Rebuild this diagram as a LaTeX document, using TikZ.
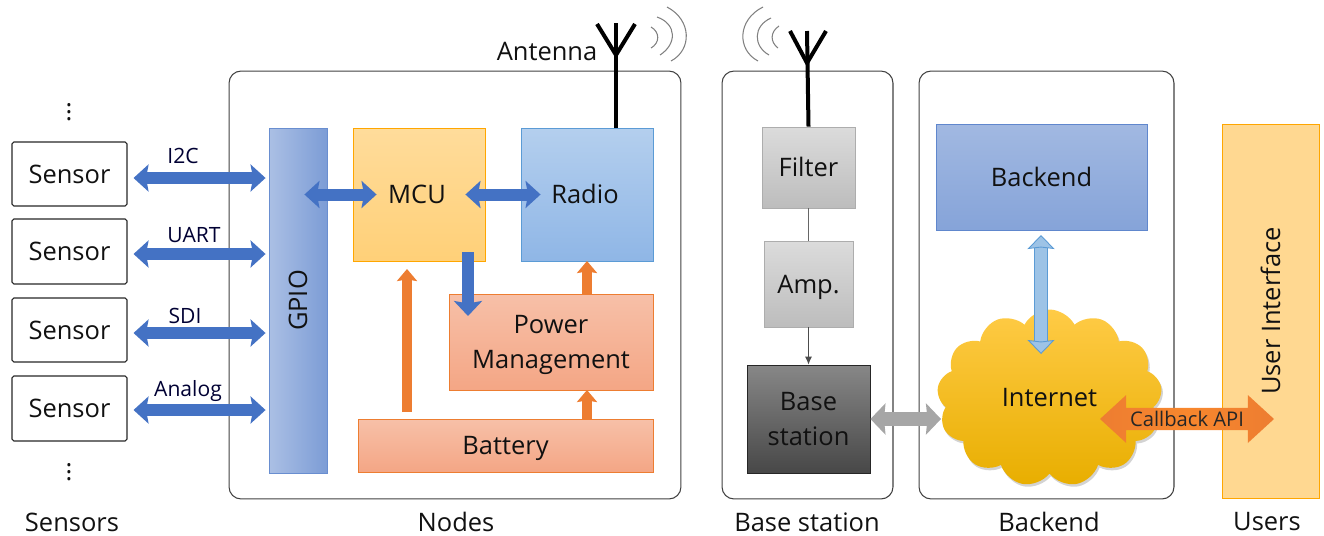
\documentclass[tikz,border=0pt]{standalone}
\usepackage{fontspec}
\setmainfont{Open Sans}
\usetikzlibrary{arrows.meta,shapes.symbols,shapes.arrows,shadows}

\definecolor{busblue}{HTML}{4472C4}
\definecolor{powerorange}{HTML}{ED7D31}
\definecolor{linkblue}{HTML}{9DC3E6}
\definecolor{edgeblue}{HTML}{5B9BD5}
\definecolor{textdark}{HTML}{111111}
\definecolor{orangetop}{HTML}{F7C0A8}
\definecolor{orangebottom}{HTML}{F4A685}

\tikzset{
  label/.style={font=\fontsize{14.5}{20}\selectfont, text=textdark, inner sep=0pt},
  smalllabel/.style={font=\fontsize{12}{14}\selectfont, text=black!80!blue, inner sep=0pt},
  group/.style={draw=black!75, line width=0.6pt, rounded corners=0.24cm},
  block/.style={label, align=center, line width=0.5pt, inner sep=0pt},
  oneline/.style={text height=14pt, text depth=3.6pt},
  sensorbox/.style={block, oneline, draw=black!85, line width=0.6pt, rounded corners=1pt, minimum width=2.3cm},
  graybox/.style={block, oneline, draw=black!32, top color=black!14, bottom color=black!26},
  orangebox/.style={block, draw=powerorange, top color=orangetop, bottom color=orangebottom},
  busarrow/.style={line width=0.24cm, busblue, {Stealth[length=0.3cm,width=0.54cm,inset=0.05cm]}-{Stealth[length=0.3cm,width=0.54cm,inset=0.05cm]}},
  bustip/.style={line width=0.24cm, busblue, -{Stealth[length=0.3cm,width=0.56cm,inset=0.05cm]}},
  powerarrow/.style={line width=0.19cm, powerorange, -{Stealth[length=0.24cm,width=0.4cm,inset=0.03cm]}},
  antenna/.style={line width=0.08cm, black},
  wave/.style={line width=0.6pt, black!50},
}

\begin{document}
\begin{tikzpicture}[x=0.02cm,y=-0.02cm,>=Latex]
    \useasboundingbox (0,0) rectangle (1324,535);

    % outer groups
    \node[group, minimum width=9.04cm, minimum height=8.56cm] (nodes) at (455,285) {};
    \node[group, minimum width=3.42cm, minimum height=8.56cm] (basegroup) at (807.5,285) {};
    \node[group, minimum width=5.1cm, minimum height=8.56cm] (backendgroup) at (1046.5,285) {};

    % sensors
    \node[sensorbox, minimum height=1.28cm] (sensora) at (69.5,174) {Sensor};
    \node[sensorbox, minimum height=1.3cm] (sensorb) at (69.5,251.5) {Sensor};
    \node[sensorbox, minimum height=1.28cm] (sensorc) at (69.5,330) {Sensor};
    \node[sensorbox, minimum height=1.3cm] (sensord) at (69.5,408.5) {Sensor};
    \node[label] (dotstop) at (69,107) {$\vdots$};
    \node[label] (dotsbottom) at (69,467) {$\vdots$};

    % node blocks
    \node[block, draw=busblue!80, left color=busblue!45, right color=busblue!70, minimum width=1.16cm, minimum height=6.9cm] (gpio) at (298,300.5) {\rotatebox{90}{GPIO}};
    \node[block, oneline, draw=orange!70!yellow, top color={rgb,255:red,255;green,220;blue,155}, bottom color={rgb,255:red,255;green,208;blue,120}, minimum width=2.64cm, minimum height=2.66cm] (mcu) at (419,194.5) {\hspace{-0.08cm}MCU};
    \node[block, oneline, draw=edgeblue, top color={rgb,255:red,180;green,207;blue,238}, bottom color={rgb,255:red,143;green,182;blue,230}, minimum width=2.64cm, minimum height=2.66cm] (radio) at (587,194.5) {\hspace{-0.08cm}Radio};
    \node[orangebox, minimum width=4.08cm, minimum height=1.92cm] (power) at (551,342) {\rule{0pt}{14pt}Power\\Management};
    \node[orangebox, oneline, minimum width=5.9cm, minimum height=1.06cm] (battery) at (505.5,445.5) {Battery};

    % base station blocks
    \node[graybox, minimum width=1.86cm, minimum height=1.62cm] (filter) at (808.5,167.5) {Filter};
    \node[graybox, minimum width=1.78cm, minimum height=1.72cm] (amp) at (808.5,284) {Amp.};
    \node[block, draw=black!85, top color=black!47, bottom color=black!72, minimum width=2.46cm, minimum height=2.16cm] (station) at (808.5,419) {Base\\station};

    % backend blocks
    \node[block, oneline, draw=busblue!85, top color=busblue!50, bottom color=busblue!65, minimum width=4.22cm, minimum height=2.12cm] (backend) at (1041.5,177) {Backend};
    \node[label, shape=cloud, cloud puffs=13, cloud puff arc=125, aspect=1.27, minimum width=4.5cm, minimum height=3.54cm, top color={rgb,255:red,255;green,203;blue,70}, middle color={rgb,255:red,255;green,192;blue,0}, bottom color={rgb,255:red,232;green,174;blue,0}, drop shadow={opacity=0.35, shadow xshift=0.03cm, shadow yshift=-0.05cm}] (internet) at (1049.5,398) {Internet};
    \node[block, draw=orange!70!yellow, fill={rgb,255:red,255;green,216;blue,145}, minimum width=1.94cm, minimum height=7.48cm] (ui) at (1270.5,311) {\rotatebox{90}{User Interface}};

    % antennas
    \draw[antenna] (radio.north -| 616,0) -- (616,23);
    \draw[antenna] (597,24) -- (616,55) -- (635,24);
    \draw[antenna] (filter.north) -- (807,31);
    \draw[antenna] (790,31) -- (807,63) -- (826,31);
    \draw[wave] (651,27) .. controls (660,32) and (660,43) .. (651,48);
    \draw[wave] (657,17) .. controls (677,24) and (677,44) .. (660,55);
    \draw[wave] (667,7) .. controls (692,20) and (692,50) .. (671,61);
    \draw[wave] (779,26) .. controls (770,32) and (770,42) .. (778,48);
    \draw[wave] (771,18) .. controls (753,26) and (753,46) .. (769,55);
    \draw[wave] (763,7) .. controls (737,20) and (737,50) .. (758,61);

    % sensor buses
    \draw[busarrow, shorten <=0.12cm, shorten >=0.06cm] (sensora.east |- 0,178) -- (gpio.west |- 0,178);
    \draw[busarrow, shorten <=0.12cm, shorten >=0.06cm] (sensorb.east |- 0,254) -- (gpio.west |- 0,254);
    \draw[busarrow, shorten <=0.12cm, shorten >=0.06cm] (sensorc.east |- 0,333) -- (gpio.west |- 0,333);
    \draw[busarrow, shorten <=0.12cm, shorten >=0.06cm] (sensord.east |- 0,410) -- (gpio.west |- 0,410);

    % node links
    \draw[busarrow, shorten <=-0.46cm, shorten >=-0.48cm] (gpio.east |- mcu.west) -- (mcu.west);
    \draw[busarrow, shorten <=-0.4cm, shorten >=-0.4cm] (mcu.east) -- (radio.west);
    \draw[bustip, shorten <=-0.18cm, shorten >=-0.44cm] (468,261) -- (468,294);
    \draw[powerarrow, shorten <=0.14cm, shorten >=0.16cm] (407,419) -- (407,261);
    \draw[powerarrow] (power.north -| 587,0) -- (587,261);
    \draw[powerarrow] (battery.north -| 587,0) -- (587,390);

    % base station links
    \draw[black!60, line width=0.5pt] (filter.south) -- (amp.north);
    \draw[black!70, line width=0.5pt, -{Latex[length=0.16cm,width=0.14cm]}] (amp.south) -- (station.north);
    \draw[line width=0.28cm, black!35, {Stealth[length=0.3cm,width=0.62cm,inset=0.03cm]}-{Stealth[length=0.3cm,width=0.62cm,inset=0.03cm]}] (station.east |- 0,419) -- (941,419);

    % backend links
    \draw[line width=0.25cm, linkblue, preaction={draw=edgeblue, line width=0.29cm, -, shorten <=0.2cm, shorten >=0.2cm}, {Stealth[length=0.28cm,width=0.54cm,inset=0.03cm,color=edgeblue,fill=linkblue,line width=0.5pt]}-{Stealth[length=0.28cm,width=0.54cm,inset=0.03cm,color=edgeblue,fill=linkblue,line width=0.5pt]}] (1041,235) -- (1041,354);
    \node[shape=double arrow, double arrow head extend=0.23cm, double arrow tip angle=85, minimum height=3.48cm, minimum width=0.96cm, inner sep=1pt, left color=powerorange, right color=powerorange, middle color={rgb,255:red,248;green,135;blue,45}, font=\fontsize{11.5}{14}\selectfont, text=black!85] (callback) at (1187,419) {Callback API};

    % bus labels
    \node[smalllabel] (buslabela) at (183,156) {I2C};
    \node[smalllabel] (buslabelb) at (194,235) {UART};
    \node[smalllabel] (buslabelc) at (185,316) {SDI};
    \node[smalllabel] (buslabeld) at (188,391) {Analog};
    \node[label] (antennalabel) at (547,51) {Antenna};

    % column titles
    \node[label] (titlea) at (72,522) {Sensors};
    \node[label] (titleb) at (456,522) {Nodes};
    \node[label] (titlec) at (807,522) {Base station};
    \node[label] (titled) at (1049,522) {Backend};
    \node[label] (titlee) at (1267,522) {Users};
\end{tikzpicture}
\end{document}
